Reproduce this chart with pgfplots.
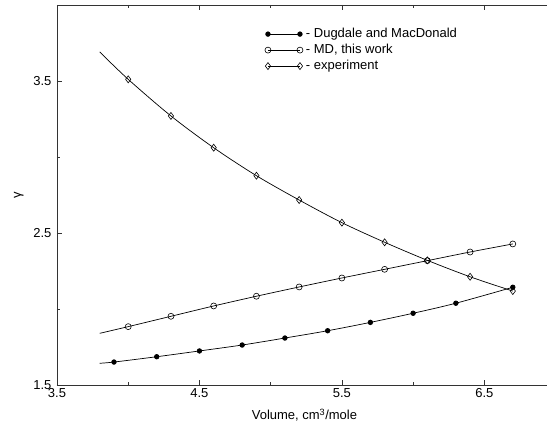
\documentclass[border=0pt]{standalone}
\usepackage{fontspec}
\setmainfont{Liberation Sans}
\usepackage{pgfplots}
\pgfplotsset{compat=1.18}
\newcommand{\lblfont}{\fontsize{13}{15.5}\selectfont}
\begin{document}
\begin{tikzpicture}
\begin{axis}[
  scale only axis, width=490pt, height=380pt,
  xmin=3.5, xmax=6.94, ymin=1.5, ymax=4.0,
  axis x line*=box, axis y line*=left,
  axis line style={line width=0.9pt, black!80},
  xtick={3.5,4.5,5.5,6.5}, ytick={1.5,2.5,3.5},
  minor xtick={4,5,6}, minor ytick={2,3},
  tick align=inside, major tick length=5pt, minor tick length=3pt,
  every tick/.style={line width=0.7pt, black!80},
  xticklabel style={/pgf/number format/fixed, /pgf/number format/fixed zerofill, /pgf/number format/precision=1, /pgf/number format/assume math mode=true, font=\lblfont},
  yticklabel style={/pgf/number format/fixed, /pgf/number format/fixed zerofill, /pgf/number format/precision=1, /pgf/number format/assume math mode=true, font=\lblfont, xshift=-2pt},
  xlabel={Volume, cm\textsuperscript{3}/mole},
  ylabel={γ},
  xlabel style={at={(axis description cs:0.505,-0.079)}, anchor=center, font=\lblfont},
  ylabel style={at={(axis description cs:-0.078,0.5)}, anchor=center, font=\lblfont},
  legend cell align=left,
  legend style={at={(axis description cs:0.424,0.945)}, anchor=north west, draw=none, fill=none, inner sep=0pt,
    font=\lblfont, nodes={inner xsep=3pt, inner ysep=1.75pt, text height=9.5pt, text depth=3pt}},
  legend image code/.code={\draw[#1, mark indices={1,2}] plot coordinates {(0pt,0pt) (32pt,0pt)};},
  every axis plot/.append style={black, line width=0.7pt},
]
% Dugdale and MacDonald
\addplot[smooth, mark=*, mark size=2.3pt, mark indices={2,3,4,5,6,7,8,9,10,11}] coordinates {
 (3.8,1.643) (3.9,1.651) (4.2,1.686) (4.5,1.724) (4.8,1.763) (5.1,1.809)
 (5.4,1.857) (5.7,1.912) (6.0,1.972) (6.3,2.038) (6.7,2.143)};
\addlegendentry{- Dugdale and MacDonald}
% MD, this work
\addplot[smooth, mark=o, mark size=3pt, mark options={line width=0.6pt}, mark indices={2,3,4,5,6,7,8,9,10,11}] coordinates {
 (3.8,1.840) (4.0,1.884) (4.3,1.952) (4.6,2.020) (4.9,2.084) (5.2,2.145)
 (5.5,2.204) (5.8,2.261) (6.1,2.318) (6.4,2.375) (6.7,2.428)};
\addlegendentry{- MD, this work}
% experiment
\addplot[smooth, mark=diamond, mark size=3.5pt, mark options={line width=0.6pt}, mark indices={2,3,4,5,6,7,8,9,10,11}] coordinates {
 (3.8,3.691) (4.0,3.511) (4.3,3.270) (4.6,3.061) (4.9,2.877) (5.2,2.717)
 (5.5,2.568) (5.8,2.439) (6.1,2.320) (6.4,2.212) (6.7,2.118)};
\addlegendentry{- experiment}
\coordinate (bl) at (rel axis cs:0,0);
\coordinate (tr) at (rel axis cs:1,1);
\end{axis}
\pgfresetboundingbox
\useasboundingbox ([shift={(-57pt,-41pt)}]bl) rectangle ([shift={(0pt,5pt)}]tr);
\end{tikzpicture}
\end{document}
